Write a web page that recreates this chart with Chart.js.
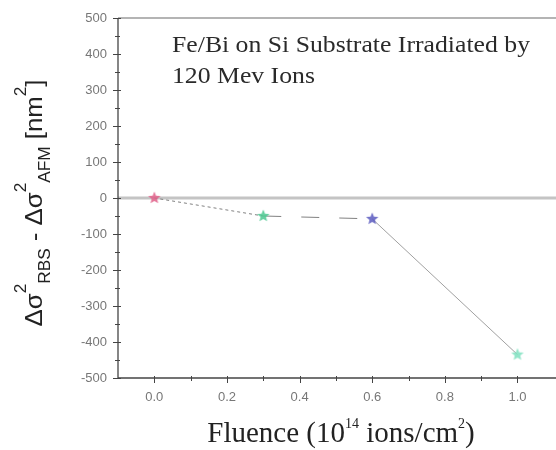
<!DOCTYPE html>
<html>
<head>
<meta charset="utf-8">
<script src="https://cdn.jsdelivr.net/npm/chart.js@4.4.0/dist/chart.umd.min.js"></script>
<style>
html,body{margin:0;padding:0;background:#fff;}
#wrap{width:556px;height:450px;position:relative;}
</style>
</head>
<body>
<div id="wrap"><canvas id="c" width="556" height="450"></canvas></div>
<script>
// ---- data ----
const fluence = [0.0, 0.3, 0.6, 1.0];
const deltaSigma = [0, -50, -58, -435];
const pointColors = ['#e0608a', '#4cc890', '#5a5ac0', '#7fe0c0'];
const segmentDashes = [[3, 3], [18, 20], []];
const xTickLabels = ['0.0', '0.2', '0.4', '0.6', '0.8', '1.0'];
const annotationLines = ['Fe/Bi on Si Substrate Irradiated by', '120 Mev Ions'];

function makeStar(color, size) {
  const c = document.createElement('canvas');
  c.width = size; c.height = size;
  const g = c.getContext('2d');
  const cx = size / 2, cy = size / 2, R = size / 2 - 0.5, r = R * 0.45;
  g.beginPath();
  for (let i = 0; i < 10; i++) {
    const a = -Math.PI / 2 + i * Math.PI / 5;
    const rad = i % 2 === 0 ? R : r;
    const x = cx + rad * Math.cos(a), y = cy + rad * Math.sin(a);
    if (i === 0) g.moveTo(x, y); else g.lineTo(x, y);
  }
  g.closePath();
  g.fillStyle = color;
  g.globalAlpha = 0.85;
  g.fill();
  return c;
}
const starImgs = pointColors.map(c => makeStar(c, 14));

const axisPlugin = {
  id: 'axisDeco',
  beforeDatasetsDraw(chart) {
    const ctx = chart.ctx, a = chart.chartArea;
    const y = chart.scales.y;
    ctx.save();
    const y0 = y.getPixelForValue(0);
    ctx.strokeStyle = '#c4c4c4'; ctx.lineWidth = 3;
    ctx.beginPath(); ctx.moveTo(a.left, y0); ctx.lineTo(556, y0); ctx.stroke();
    ctx.strokeStyle = '#b4b4b4'; ctx.lineWidth = 2;
    ctx.beginPath(); ctx.moveTo(a.left, a.top); ctx.lineTo(556, a.top); ctx.stroke();
    ctx.restore();
  },
  afterDraw(chart) {
    const ctx = chart.ctx, a = chart.chartArea;
    const y = chart.scales.y, x = chart.scales.x;
    ctx.save();
    ctx.strokeStyle = '#444'; ctx.lineWidth = 1.3;
    ctx.beginPath(); ctx.moveTo(a.left, a.top); ctx.lineTo(a.left, a.bottom); ctx.stroke();
    ctx.beginPath(); ctx.moveTo(a.left, a.bottom); ctx.lineTo(556, a.bottom); ctx.stroke();
    ctx.lineWidth = 1;
    y.ticks.forEach(t => {
      const p = Math.round(y.getPixelForValue(t.value)) + 0.5;
      const major = Math.round(t.value) % 100 === 0;
      ctx.beginPath();
      ctx.moveTo(a.left - (major ? 5 : 3), p);
      ctx.lineTo(a.left + (major ? 3 : 2), p);
      ctx.stroke();
    });
    x.ticks.forEach(t => {
      if (t.value < -0.05) return;
      const p = Math.round(x.getPixelForValue(t.value)) + 0.5;
      const major = Math.round(t.value * 10) % 2 === 0;
      ctx.beginPath();
      ctx.moveTo(p, a.bottom - 2);
      ctx.lineTo(p, a.bottom + (major ? 5 : 3));
      ctx.stroke();
    });
    ctx.fillStyle = '#222';
    const drawRuns = (runs, startX, baseY) => {
      let cx = startX;
      runs.forEach(r => {
        ctx.font = r.font;
        ctx.fillText(r.t, cx, baseY + (r.dy || 0));
        cx += ctx.measureText(r.t).width;
      });
    };
    const measureRuns = runs => runs.reduce((s, r) => { ctx.font = r.font; return s + ctx.measureText(r.t).width; }, 0);
    const serif = '"Liberation Serif", "Times New Roman", serif';
    ctx.textAlign = 'left'; ctx.textBaseline = 'alphabetic';
    // x title
    const xRuns = [
      { t: 'Fluence (10', font: '29px ' + serif },
      { t: '14', font: '14px ' + serif, dy: -14 },
      { t: ' ions/cm', font: '29px ' + serif },
      { t: '2', font: '14px ' + serif, dy: -14 },
      { t: ')', font: '29px ' + serif }
    ];
    const xw = measureRuns(xRuns);
    drawRuns(xRuns, 341 - xw / 2, 442);
    // y title
    const sans = '"Liberation Sans", Arial, sans-serif';
    const big = '24px ' + sans, sm = '16px ' + sans;
    const yRuns = [
      { t: 'Δσ', font: big },
      { t: '2', font: sm, dy: -16 },
      { t: 'RBS', font: sm, dy: 8 },
      { t: ' - Δσ', font: big },
      { t: '2', font: sm, dy: -16 },
      { t: 'AFM', font: sm, dy: 8 },
      { t: ' [nm', font: big },
      { t: '2', font: sm, dy: -16 },
      { t: ']', font: big }
    ];
    ctx.save();
    ctx.translate(42, 203);
    ctx.rotate(-Math.PI / 2);
    const yw = measureRuns(yRuns);
    ctx.scale(247 / yw, 1);
    drawRuns(yRuns, -yw / 2, 0);
    ctx.restore();
    // annotation
    ctx.font = '23px ' + serif;
    ctx.fillStyle = '#2a2a2a';
    const w0 = ctx.measureText(annotationLines[0]).width;
    ctx.save();
    ctx.translate(172, 0);
    ctx.scale(358 / w0, 1);
    ctx.fillText(annotationLines[0], 0, 52);
    ctx.fillText(annotationLines[1], 0, 83);
    ctx.restore();
    ctx.restore();
  }
};

new Chart(document.getElementById('c'), {
  type: 'scatter',
  data: {
    datasets: [{
      data: fluence.map((f, i) => ({ x: f, y: deltaSigma[i] })),
      showLine: true,
      borderColor: '#8a8a8a',
      borderWidth: 1,
      pointStyle: starImgs,
      pointRadius: 7,
      segment: {
        borderDash: ctx => segmentDashes[ctx.p0DataIndex],
        borderColor: ctx => ctx.p0DataIndex === 2 ? '#a0a0a0' : '#808080'
      }
    }]
  },
  plugins: [axisPlugin],
  options: {
    responsive: false,
    animation: false,
    layout: { padding: { top: 18, right: 0, left: 0, bottom: 0 } },
    plugins: { legend: { display: false }, tooltip: { enabled: false } },
    scales: {
      x: {
        type: 'linear', min: -0.1, max: 1.084,
        grid: { display: false }, border: { display: false },
        afterFit: s => { s.height = 72; },
        ticks: {
          stepSize: 0.1, includeBounds: false, autoSkip: false, maxRotation: 0,
          padding: 4, color: '#777',
          font: { size: 13, family: '"Liberation Sans", Arial, sans-serif' },
          callback: v => {
            const k = Math.round(v * 10);
            if (k < 0 || k > 10 || k % 2 !== 0) return '';
            return xTickLabels[k / 2];
          }
        }
      },
      y: {
        type: 'linear', min: -500, max: 500,
        grid: { display: false }, border: { display: false },
        afterFit: s => { s.width = 118; },
        ticks: {
          stepSize: 50, autoSkip: false, padding: 3, color: '#777',
          font: { size: 13, family: '"Liberation Sans", Arial, sans-serif' },
          callback: v => (Math.round(v) % 100 === 0 ? String(v) : '')
        }
      }
    }
  }
});
</script>
</body>
</html>
